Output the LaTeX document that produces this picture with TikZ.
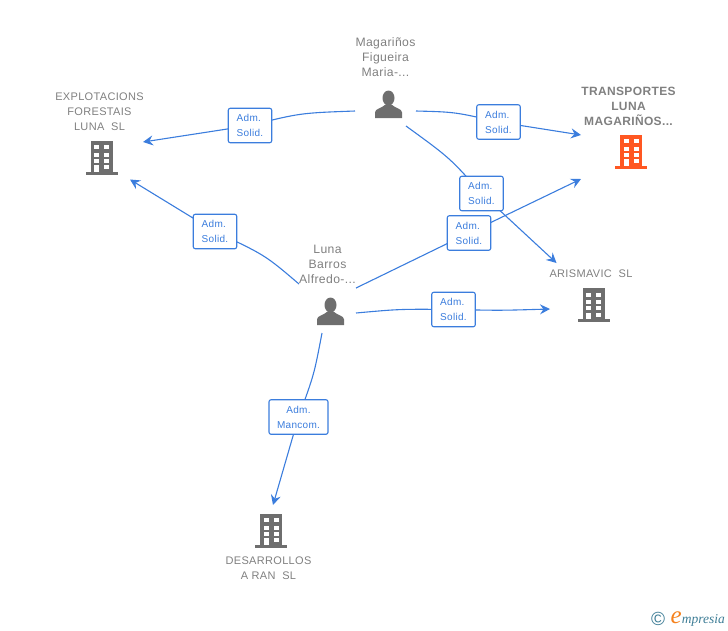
\documentclass[tikz,border=0pt]{standalone}
\usepackage{fontspec}
\setmainfont{Liberation Sans}[LetterSpace=3]
\newfontfamily\logofont{Liberation Serif}
\usetikzlibrary{positioning,arrows.meta,backgrounds}
\definecolor{emBlue}{RGB}{59,125,221}
\definecolor{emGray}{RGB}{128,128,128}
\definecolor{emIcon}{RGB}{110,110,110}
\definecolor{emOrange}{RGB}{255,87,34}
\definecolor{emTeal}{RGB}{62,125,150}
\definecolor{emLogo}{RGB}{245,130,30}
\tikzset{
    base/.style={font=\fontsize{12.2}{15}\selectfont, align=center, text=emGray, inner sep=0pt},
    person/.style={base},
    firm/.style={base, font=\fontsize{11}{15}\selectfont},
    mainfirm/.style={firm, font=\fontsize{12}{15}\selectfont\bfseries},
    badge/.style={rectangle, rounded corners=2pt, draw=emBlue, line width=1.1pt, fill=white,
                  text=emBlue, font=\fontsize{10}{15}\selectfont, align=left, inner sep=0pt,
                  minimum width=43.5pt, minimum height=34.5pt},
    link/.style={draw=emBlue, line width=1.1pt},
    flow/.style={link, -{Stealth[length=10pt,width=10pt,inset=3.5pt]}},
    building/.pic={
        \fill (-16,14) rectangle (16,17);
        \fill (-11,-17) rectangle (11,14);
        \foreach \y in {-12.5,-5,1}{
            \fill[white] (-7.5,\y) rectangle (-2.5,\y+4);
            \fill[white] (2.5,\y) rectangle (7.5,\y+4);
        }
        \fill[white] (2.5,7.5) rectangle (7.5,11.5);
        \fill[white] (-7.5,7.5) rectangle (-2.5,14);
    },
    silhouette/.pic={
        \fill (0,-6.5) ellipse (6 and 7.5);
        \fill (-13.5,13.5) -- (-13.5,8) .. controls (-13.5,4) and (-7,4) .. (-3,0)
            -- (3,0) .. controls (7,4) and (13.5,4) .. (13.5,8) -- (13.5,13.5) -- cycle;
    }
}
\begin{document}
\begin{tikzpicture}[x=1pt,y=-1pt]
  \useasboundingbox (0,0) rectangle (728,630);

  % People
  \node[person] (magarinos) at (385.5,57) {Magariños\\Figueira\\Maria-...};
  \node[person] (luna) at (327.5,264) {Luna\\Barros\\Alfredo-...};
  \pic[emIcon] at (388.5,104.5) {silhouette};
  \pic[emIcon] at (330.5,311.5) {silhouette};

  % Companies
  \node[firm] (explotacions) at (99.5,111.5) {EXPLOTACIONS\\FORESTAIS\\LUNA\ \ SL};
  \node[mainfirm] (transportes) at (628.5,106) {TRANSPORTES\\LUNA\\MAGARIÑOS...};
  \node[firm] (arismavic) at (591,274) {ARISMAVIC\ \ SL};
  \node[firm] (desarrollos) at (268.5,568) {DESARROLLOS\\A RAN\ \ SL};
  \pic[emIcon] at (101.5,157.5) {building};
  \pic[emOrange] at (631,151.5) {building};
  \pic[emIcon] at (593.5,305) {building};
  \pic[emIcon] at (271,530.5) {building};

  % Badges
  \node[badge] (solidA) at (250,125.5) {Adm.\\Solid.};
  \node[badge] (solidB) at (498.5,122) {Adm.\\Solid.};
  \node[badge] (solidC) at (481.5,193.5) {Adm.\\Solid.};
  \node[badge] (solidD) at (469,233) {Adm.\\Solid.};
  \node[badge] (solidE) at (453.5,309.5) {Adm.\\Solid.};
  \node[badge] (solidF) at (215,231.5) {Adm.\\Solid.};
  \node[badge, align=center, minimum width=59pt] (mancom) at (298.5,417) {Adm.\\Mancom.};

  % Line ends
  \coordinate (magW) at (355,111);
  \coordinate (magE) at (416,111);
  \coordinate (magS) at (406,126);
  \coordinate (lunaNW) at (299,284);
  \coordinate (lunaNE) at (356,288);
  \coordinate (lunaE) at (356,313);
  \coordinate (lunaS) at (322,333);
  \coordinate (toExpA) at (143,142);
  \coordinate (toExpB) at (130,179.5);
  \coordinate (toTraA) at (581,135);
  \coordinate (toTraB) at (581,179);
  \coordinate (toAri) at (556.5,263);
  \coordinate (toAriB) at (550,309);
  \coordinate (toDes) at (273,505);

  % Arrows
  \begin{scope}[on background layer]
    \draw[link] (magW) .. controls (300,113) .. (solidA.center);
    \draw[flow] (solidA.center) -- (toExpA);
    \draw[link] (magE) .. controls (455,112) .. (solidB.center);
    \draw[flow] (solidB.center) -- (toTraA);
    \draw[link] (magS) .. controls (450,158) .. (solidC.center);
    \draw[flow] (solidC.center) -- (toAri);
    \draw[link] (lunaNE) -- (solidD.center);
    \draw[flow] (solidD.center) -- (toTraB);
    \draw[link] (lunaE) .. controls (400,309) .. (solidE.center);
    \draw[flow] (solidE.center) .. controls (500,310.5) .. (toAriB);
    \draw[link] (lunaNW) .. controls (265,255) .. (solidF.center);
    \draw[flow] (solidF.center) -- (toExpB);
    \draw[link] (lunaS) .. controls (314,375) .. (mancom.center);
    \draw[flow] (mancom.center) -- (toDes);
  \end{scope}

  % Logo
  \node[inner sep=0pt, text=emTeal, font=\fontsize{19}{19}\selectfont] (copyright) at (658,619) {\textcopyright};
  \node[inner sep=0pt, anchor=base west, text=emTeal, font=\logofont\itshape\fontsize{13.5}{14}\selectfont]
    (brand) at (670.5,623) {\textcolor{emLogo}{\fontsize{25}{26}\selectfont e}mpresia};
\end{tikzpicture}
\end{document}
